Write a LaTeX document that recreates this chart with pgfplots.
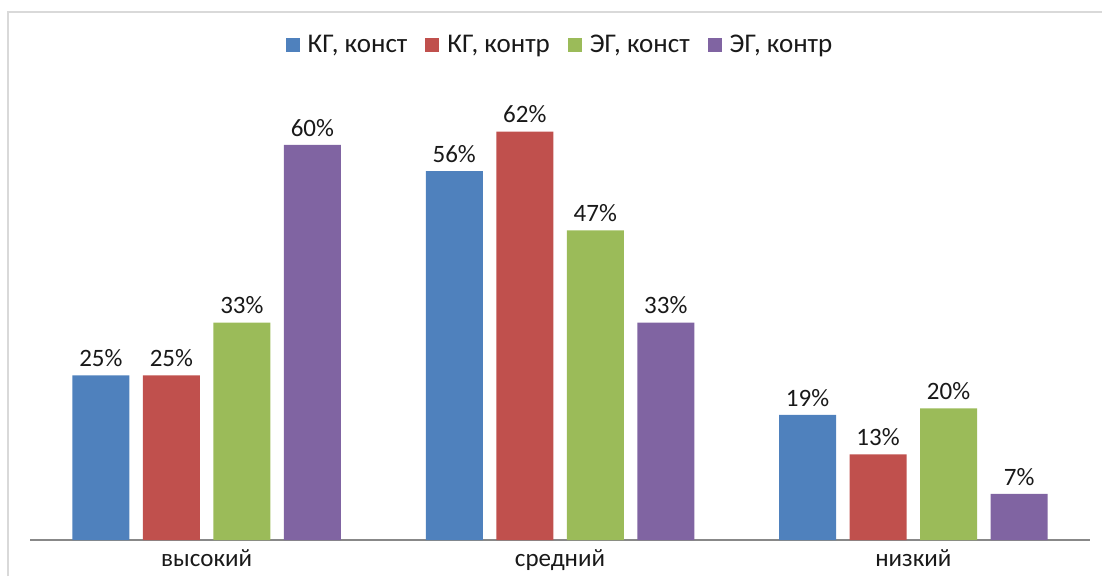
\documentclass[border=0pt]{standalone}
\usepackage{pgfplots}
\pgfplotsset{compat=1.18}
\usepackage{fontspec}
\setmainfont{Carlito}
\definecolor{cblue}{HTML}{4F81BD}
\definecolor{cred}{HTML}{C0504D}
\definecolor{cgreen}{HTML}{9BBB59}
\definecolor{cpurple}{HTML}{8064A2}
\definecolor{frame}{HTML}{D9D9D9}
\definecolor{axisgray}{HTML}{888888}
\begin{document}
\begin{tikzpicture}[x=1pt,y=1pt]
\useasboundingbox (0,0) rectangle (1102,576);
\draw[frame, line width=2pt] (8,0) -- (8,564) -- (1102,564);
\begin{axis}[
  at={(30pt,36pt)}, anchor=south west,
  scale only axis, width=1060pt, height=461pt,
  xmin=-0.5, xmax=2.5, ymin=0, ymax=70,
  ybar=13.5pt, bar width=57pt,
  axis x line*=bottom, hide y axis,
  x axis line style={axisgray, line width=2pt, -},
  xtick={0,1,2}, xticklabels={высокий, средний, низкий},
  xtick style={draw=none},
  xticklabel style={font=\fontsize{25}{29}\selectfont, text=black!90, yshift=-2pt},
  /pgf/number format/assume math mode=true,
  nodes near coords={\pgfmathprintnumber{\pgfplotspointmeta}\%},
  every node near coord/.append style={font=\fontsize{25}{29}\selectfont, text=black!90, yshift=5pt},
  legend columns=4,
  legend style={at={(0.5,1.074)}, anchor=center, draw=none, fill=none,
    font=\fontsize{27}{31}\selectfont, text=black!90,
    /tikz/every odd column/.append style={column sep=6pt},
    /tikz/every even column/.append style={column sep=16pt}},
  legend image code/.code={\fill[#1] (0pt,-7pt) rectangle (14pt,7pt);},
]
\addplot[fill=cblue, draw=none] coordinates {(0,25) (1,56) (2,19)};
\addplot[fill=cred, draw=none] coordinates {(0,25) (1,62) (2,13)};
\addplot[fill=cgreen, draw=none] coordinates {(0,33) (1,47) (2,20)};
\addplot[fill=cpurple, draw=none] coordinates {(0,60) (1,33) (2,7)};
\legend{{КГ, конст}, {КГ, контр}, {ЭГ, конст}, {ЭГ, контр}}
\end{axis}
\end{tikzpicture}
\end{document}
